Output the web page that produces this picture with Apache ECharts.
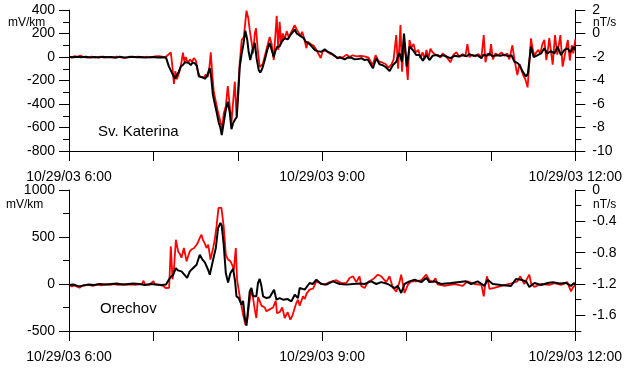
<!DOCTYPE html>
<html>
<head>
<meta charset="utf-8">
<script src="https://cdn.jsdelivr.net/npm/echarts@6/dist/echarts.min.js"></script>
<style>
  html, body { margin: 0; padding: 0; background: #fff; }
  #chart { width: 625px; height: 370px; }
</style>
</head>
<body>
<div id="chart"></div>
<script>
// minutes after 10/29/03 6:00
const timeLabels = { 0: '10/29/03 6:00', 180: '10/29/03 9:00', 360: '10/29/03 12:00' }

// Sv. Katerina, red = E (mV/km)
const katRedT = [0, 2, 4, 6, 8, 10, 13, 16, 19, 22, 25, 28, 31, 34, 37, 40, 43, 46, 49, 52, 55, 58, 61, 64, 67, 69, 70,
  72.4, 73.5, 74.6, 75.6, 76.7, 78.1, 79.5, 81, 82, 83, 84.5, 86, 87.3, 88.8, 90.2, 91.6, 93, 94.4, 95.9, 97.3, 98.7, 99.8,
  100.8, 101.9, 103, 104.4, 105.8, 106.9, 107.9, 109, 110, 111.5, 112.9, 115.5, 117.9, 119.1, 120.4, 121.4, 122.8, 124.3,
  126.2, 127.5, 128.5, 129.9, 130.9, 132.1, 133, 134.2, 135.6, 137.8, 139.9, 142.7, 144.1, 145.6, 146.5, 147.7, 148.8, 149.8,
  150.9, 152, 153.4, 154.8, 156.2, 157.6, 159, 160.5, 161.9, 163.3, 164.7, 165.8, 167.6, 168.8, 169.7, 171.8, 174, 175.4,
  176.8, 179, 180.4, 182.5, 185.3, 188.2, 190.3, 192.4, 194.6, 197.4, 199.5, 201.7, 204.5, 207.3, 210.2, 213, 214.4, 215.9,
  218, 220.1, 222.3, 225.1, 227.2, 229.4, 230.8, 232.7, 234, 235.7, 236.8, 238.2, 239.3, 240.9, 242.1, 243.5, 245, 246.4,
  248.5, 249.9, 251.4, 252.8, 254.2, 255.6, 257, 258.5, 260.6, 262.7, 264.1, 265.6, 267.7, 269.1, 271.2, 273.4, 275.5, 277.6,
  279.8, 281.9, 283.3, 284.7, 286.9, 289, 291.1, 293.3, 294.9, 296.1, 297.5, 299, 300.1, 301.4, 303.2, 305.3, 307.5, 309.6,
  311.7, 313.1, 315.3, 316.7, 318.8, 320.3, 321.7, 323.1, 324.5, 326.1, 327.3, 328.5, 329.5, 330.9, 332.3, 333.7, 335.1,
  336.6, 338, 339.4, 340.5, 341.5, 343.9, 345.6, 347.2, 349.4, 351, 352.9, 354.7, 356.1, 357.5, 358.6, 360]
const katRedV = [5, -5, 8, 0, 12, 2, -6, 4, -3, 3, -5, 2, -4, 3, -3, -8, 3, -2, 4, -4, 2, -3, 5, 8, 0, 2, -10,
  40, -80, -230, -120, -190, -140, -80, 37, -40, 0, -50, -20, -40, -10, -30, -120, -165, -150, -175, -150, -170, -90,
  40, -150, -300, -380, -460, -450, -560, -610, -480, -420, -247, -560, -210, -500, -250, -50, 145, 170,
  394, 330, 230, 120, 30, 200, 245, 60, -85, -60, 40, 170, 110, -26, 145, 350, 60, 300,
  110, 200, 150, 220, 170, 200, 190, 272, 235, 250, 180, 215, 140, 75, 130, 110, 95, 70,
  85, -8, 50, 55, 30, 15, -5, 0, -5, 20, 0, 15, 5, 10, 5, -5, -10, -70,
  15, -35, -45, -60, -90, -60, -20, 187, -100, 272, -125, 120, 20, -196, 145, 80, 110, 40,
  60, -10, 40, -20, 60, -10, 70, 40, 20, 15, -5, 30, 10, 25, -45, 20, 40, 0,
  25, 10, 110, 0, 20, 5, 25, 0, 187, -45, 30, 10, 110, -20, 30, 15, 40, 10,
  30, -20, 100, -20, -153, -60, -110, -160, -190, -258, -50, 159, 80, 10, 40, 60, 30,
  110, 145, -26, 60, 160, -65, 187, 20, 187, -82, 40, 145, -30, 100, 30, 150]

// Sv. Katerina, black = dB/dt (nT/s)
const katBlackT = [0, 3, 6, 9, 12, 15, 18, 21, 24, 27, 30, 33, 36, 39, 42, 45, 48, 51, 54, 57, 60, 63, 66, 69,
  70.3, 71, 72.4, 73.8, 75.3, 76.7, 78.1, 79.5, 81, 82.4, 83.8, 85.2, 86.6, 88, 89.5, 90.9, 92.3, 93.7, 95.1, 96.6, 98, 99,
  100.1, 101.1, 102.3, 103.7, 105.1, 106.5, 107.6, 108.6, 110, 111.5, 112.9, 114.3, 115.5, 116.8, 118.2, 119.3, 120.4,
  121.4, 122.8, 123.9, 125.4, 126.7, 127.8, 128.9, 130.3, 132.1, 133.5, 134.9, 136, 137.4, 139.2, 141, 142.7, 144.1,
  145.6, 147, 148.1, 149.8, 151.2, 153.4, 155.5, 157.6, 159, 160.5, 161.9, 163.3, 165.2, 166.9, 168.3, 169.7, 171.1,
  173.3, 174.7, 176.8, 179.4, 181.8, 183.9, 186.5, 188.9, 191, 193.1, 196, 198.1, 200.7, 203.1, 205.4, 208, 210.2,
  212.3, 213.7, 216.1, 218.5, 220.8, 223, 225.1, 228, 230.3, 232.7, 234, 235, 236.7, 238.2, 240.2, 242.1, 244.5,
  246.9, 249.2, 251.6, 254, 256.3, 258.5, 261.1, 263.4, 266.3, 269.1, 271.2, 274.1, 276.9, 279.8, 282.6, 284.7,
  287.6, 290.4, 293.3, 294.7, 296.8, 299, 301.1, 303.9, 306.8, 309.6, 312.4, 314.6, 316.7, 318.8, 320.3, 322.6,
  325, 326.3, 328.5, 330.4, 332.3, 335.7, 338, 340.1, 342.7, 345.1, 347.4, 349.8, 352.2, 354.5, 356.4, 358.7, 360]
const katBlackV = [-2.00, -2.03, -1.98, -2.02, -1.97, -2.04, -2.00, -2.05, -1.98, -2.03, -2.00, -2.06, -1.98, -2.04,
  -2.02, -1.97, -2.03, -2.00, -2.05, -2.03, -2.00, -2.04, -2.02, -2.05,
  -2.2, -2.8, -2.95, -3.5, -3.85, -3.7, -3.25, -2.8, -2.68, -2.45, -2.6, -2.5, -2.7, -2.45, -2.55, -2.75, -3.65, -3.8,
  -3.75, -3.85, -3.65, -3.5, -2.95, -3.7, -5.2, -6.0, -6.77, -7.6, -8.0, -8.64, -7.6, -6.5, -5.8, -6.7, -8.15, -7.6,
  -7.3, -7.1, -5.0, -2.85, -1.7, -1.0, 0.24, -0.5, -1.6, -2.25, -1.5, -0.8, -2.2, -3.1, -3.33, -3.0, -2.25, -1.4,
  -0.8, -1.4, -2.0, -1.4, -1.12, -1.1, -0.7, -0.4, -0.5, -0.1, 0.1, 0.35, 0, 0.1, -0.27, -0.4, -0.7, -0.81, -0.9,
  -1.2, -1.4, -1.5, -1.55, -1.35, -1.55, -1.69, -1.9, -2.11, -2.05, -2.2, -2.05, -2.06, -2.2, -2.17, -2.1, -2.26,
  -2.2, -2.3, -2.96, -2.11, -2.62, -2.7, -2.85, -3.19, -2.68, -2.4, -1.9, -1.69, -2.4, 0, -2.82, -1.12, -1.4,
  -1.83, -1.83, -2.31, -1.83, -2.26, -1.9, -1.83, -1.95, -1.85, -2.0, -2.1, -1.9, -1.95, -1.85, -1.95, -1.75,
  -1.9, -1.85, -2.1, -1.8, -1.9, -1.7, -1.95, -1.85, -1.9, -1.8, -1.95, -1.85, -2.4, -2.5, -2.68, -3.25,
  -3.67, -3.4, -1.12, -2.0, -1.9, -1.7, -1.26, -1.7, -1.5, -1.7, -1.12, -1.83, -1.4, -1.26, -1.6, -1.12, -1.4]

// Orechov, red = E (mV/km)
const oreRedT = [0, 2, 4, 6, 7.5, 9, 11, 14, 17, 20, 23, 26, 29, 32, 35, 38, 41, 44, 47, 50, 52, 53, 54, 57, 58, 60, 61,
  64, 67, 68.7, 70, 71.2, 72.4, 73.6, 74.6, 76, 77.6, 78.8, 80, 81.7, 83.6, 84.8, 85.9, 87.3, 88.8, 90.7, 91.9, 93, 94.2,
  95.2, 96.6, 97.8, 99, 100.6, 102.5, 103.7, 104.9, 106.3, 107.2, 108.4, 110, 111.5, 113.1, 114.8, 116.1, 117.2, 118.6,
  119.5, 121.4, 122.6, 123.8, 125.5, 126.8, 128, 129.7, 131, 132.1, 133.2, 134.4, 135.6, 136.8, 139.2, 140.4, 142.7,
  145.1, 147, 147.9, 149.8, 151.6, 153.4, 155.5, 157.4, 159, 160.5, 161.7, 162.8, 164, 166.4, 167.6, 169, 171.1, 173.5,
  175.9, 178.2, 181.8, 185.3, 190.1, 193.6, 197.2, 199.5, 201.9, 204.3, 206.6, 207.8, 210.2, 212.5, 216.1, 219.6, 222,
  225.6, 227.9, 230.3, 232.7, 235, 236.2, 238.6, 241, 243.4, 246.9, 250.5, 254, 256.3, 258.7, 260.6, 262.1, 267, 274.1,
  280, 283.3, 288.3, 293.3, 294.9, 295.9, 297.3, 299, 302.5, 307.5, 313.1, 318.8, 320.9, 323.7, 327.3, 328.7, 330.9,
  335.9, 341.5, 345.1, 349.8, 354.3, 356.9, 358.6, 360]
const oreRedV = [-10, -25, -15, -30, -40, -20, -15, -10, -20, -5, -15, -5, -10, 0, -10, -5, -10, -5, -10, -5, 5, 35, -5,
  -10, -8, 30, -5, -10, -20, -43, -30, -40, 400, 50, 150, 471, 347, 320, 280, 383, 241, 300, 347, 370, 380, 418, 450, 490,
  525, 470, 430, 383, 420, 259, 383, 480, 613, 809, 815, 809, 613, 312, 260, 241, 200, 152, 383,
  46, -131, -150, -327, -433, -380, -220, -60, -160, -273, -362, -140, -180, -230, -250, -291, -270,
  -250, -180, -309, -300, -250, -362, -300, -380, -330, -255, -200, -167, -230, -131, -160, -100, -60, -50,
  28, 10, -7, 20, 40, 10, 10, 64, 82, 20, 82, -20, -43, 20, 50, 99, 82,
  20, 82, -40, -82, 20, 99, -96, -7, 28, 28, 40, 99, 40, 20, 60, -5, -20, 0,
  -21, 28, 0, -10, -131, -10, 82, -53, -40, -20, 0, 28, 82, 0, 99, 0, -30,
  0, -10, 10, -10, 20, -78, -30, -20]

// Orechov, black = dB/dt (nT/s)
const oreBlackT = [0, 3, 6, 8, 10, 14, 18, 22, 26, 30, 34, 38, 42, 46, 50, 54, 58, 62, 66, 69, 70,
  71.7, 74.1, 76, 77.4, 80, 82, 84, 85.9, 88.3, 90.7, 93, 94.9, 96.6, 98.9, 100.1, 102.5, 104.4, 106, 107.7, 108.6, 110,
  111.5, 113.1, 114.8, 116.7, 118.1, 119.1, 120.7, 122.6, 123.8, 125, 126.2, 127.3, 128.5, 129.7, 130.9, 133.2, 134.4,
  135.6, 136.8, 138, 140.4, 142.7, 145.8, 147.5, 149.8, 152.2, 155.5, 158.1, 160.5, 162.8, 164, 167.6, 171.1, 173.3,
  175.9, 179.4, 183, 187.7, 192.4, 197.2, 201.9, 206.6, 210.2, 214.9, 218.5, 222, 226.7, 231.5, 233.8, 236.2, 238.6,
  242.1, 245.7, 250.5, 254, 256.3, 259.9, 264.6, 271.7, 282.3, 285.9, 290.6, 295.4, 297.7, 301.3, 307.2, 314.3, 317.8,
  321.4, 325, 327.3, 330.9, 335.7, 340.4, 344, 348.8, 353.5, 356.9, 359.3, 360]
const oreBlackV = [-1.212, -1.206, -1.224, -1.23, -1.218, -1.206, -1.212, -1.2, -1.206, -1.2, -1.194, -1.206, -1.2,
  -1.194, -1.2, -1.212, -1.2, -1.206, -1.212, -1.206, -1.212,
  -1.123, -1.081, -0.996, -1.026, -1.039, -1.08, -1.123, -1.039, -0.996, -0.954, -0.826, -0.889, -0.924, -1.018, -1.081,
  -0.889, -0.74, -0.485, -0.421, -0.456, -0.698, -1.06, -1.18, -1.06, -1.004, -1.166, -1.357, -1.38, -1.464, -1.416,
  -1.634, -1.733, -1.528, -1.294, -1.25, -1.357, -1.357, -1.187, -1.136, -1.224, -1.357, -1.379, -1.368, -1.272, -1.4,
  -1.38, -1.4, -1.392, -1.422, -1.337, -1.379, -1.252, -1.272, -1.187, -1.2, -1.145, -1.2, -1.208, -1.166, -1.2,
  -1.208, -1.2, -1.194, -1.2, -1.166, -1.2, -1.176, -1.2, -1.252, -1.224, -1.315, -1.2, -1.166, -1.145, -1.176,
  -1.123, -1.176, -1.166, -1.2, -1.188, -1.166, -1.2, -1.166, -1.224, -1.145, -1.2, -1.212, -1.224, -1.136, -1.145,
  -1.166, -1.238, -1.187, -1.212, -1.187, -1.176, -1.194, -1.187, -1.224, -1.187, -1.212]

const oreRightMajor = [0, -0.4, -0.8, -1.2, -1.6]

const zip = (t, v) => t.map((x, i) => [x, v[i]])

const font = "'Liberation Sans', Arial, sans-serif"
const black = '#000'

function xAxisFor(gridIndex) {
  return {
    type: 'value',
    gridIndex,
    min: 0,
    max: 360,
    interval: 60,
    axisLine: { onZero: false, lineStyle: { color: black, width: 1 } },
    axisTick: { inside: false, length: 10, lineStyle: { color: black } },
    axisLabel: {
      margin: 19,
      color: black,
      fontFamily: font,
      fontSize: 14,
      formatter: v => timeLabels[v] || ''
    },
    splitLine: { show: false }
  }
}

function yAxisFor(gridIndex, position, min, max, interval, margin, extra) {
  return Object.assign({
    type: 'value',
    gridIndex,
    position,
    min,
    max,
    interval,
    axisLine: { show: true, onZero: false, lineStyle: { color: black, width: 1 } },
    axisTick: { inside: false, length: 10, lineStyle: { color: black } },
    minorTick: { show: true, splitNumber: 2, length: 6, lineStyle: { color: black } },
    axisLabel: { margin, color: black, fontFamily: font, fontSize: 14, formatter: v => String(v) },
    splitLine: { show: false },
    minorSplitLine: { show: false }
  }, extra || {})
}

const chart = echarts.init(document.getElementById('chart'))

chart.setOption({
  animation: false,
  backgroundColor: '#fff',
  grid: [
    { left: 69, top: 10, width: 507, height: 141 },
    { left: 69, top: 190, width: 507, height: 141 }
  ],
  xAxis: [xAxisFor(0), xAxisFor(1)],
  yAxis: [
    yAxisFor(0, 'left', -800, 400, 200, 14),
    yAxisFor(0, 'right', -10, 2, 2, 17),
    yAxisFor(1, 'left', -500, 1000, 500, 14),
    // short ticks every 0.2
    yAxisFor(1, 'right', -1.8, 0, 0.2, 17, {
      axisTick: { inside: false, length: 6, lineStyle: { color: black } },
      minorTick: { show: false },
      axisLabel: { show: false }
    }),
    // long ticks + labels every 0.4 from 0
    yAxisFor(1, 'right', -1.8, 0, 0.2, 17, {
      axisLine: { show: false, onZero: false },
      axisTick: { inside: false, length: 10, customValues: oreRightMajor, lineStyle: { color: black } },
      minorTick: { show: false },
      axisLabel: {
        margin: 17, color: black, fontFamily: font, fontSize: 14,
        customValues: oreRightMajor,
        formatter: v => (Math.abs(v) < 1e-9 ? '0' : v.toFixed(1))
      }
    })
  ],
  graphic: [
    { type: 'text', left: 8, top: 17, style: { text: 'mV/km', font: '12px ' + font, fill: black } },
    { type: 'text', left: 593, top: 17, style: { text: 'nT/s', font: '12px ' + font, fill: black } },
    { type: 'text', left: 6, top: 199, style: { text: 'mV/km', font: '12px ' + font, fill: black } },
    { type: 'text', left: 593, top: 199, style: { text: 'nT/s', font: '12px ' + font, fill: black } },
    { type: 'text', left: 98, top: 124, style: { text: 'Sv. Katerina', font: '15px ' + font, fill: black } },
    { type: 'text', left: 100, top: 301, style: { text: 'Orechov', font: '15px ' + font, fill: black } }
  ],
  series: [
    {
      name: 'Sv. Katerina E', type: 'line', xAxisIndex: 0, yAxisIndex: 0,
      data: zip(katRedT, katRedV), showSymbol: false, symbol: 'none',
      lineStyle: { color: '#ff0000', width: 1.8 }, z: 2
    },
    {
      name: 'Sv. Katerina dB/dt', type: 'line', xAxisIndex: 0, yAxisIndex: 1,
      data: zip(katBlackT, katBlackV), showSymbol: false, symbol: 'none',
      lineStyle: { color: black, width: 2 }, z: 3
    },
    {
      name: 'Orechov E', type: 'line', xAxisIndex: 1, yAxisIndex: 2,
      data: zip(oreRedT, oreRedV), showSymbol: false, symbol: 'none',
      lineStyle: { color: '#ff0000', width: 1.8 }, z: 2
    },
    {
      name: 'Orechov dB/dt', type: 'line', xAxisIndex: 1, yAxisIndex: 3,
      data: zip(oreBlackT, oreBlackV), showSymbol: false, symbol: 'none',
      lineStyle: { color: black, width: 2 }, z: 3
    }
  ]
})
</script>
</body>
</html>
